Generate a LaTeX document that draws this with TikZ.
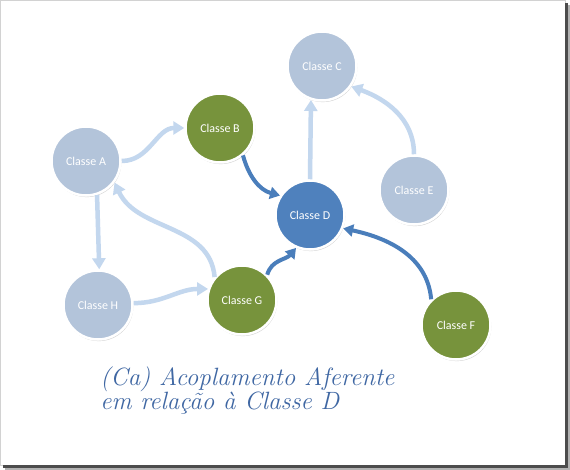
\documentclass[tikz,border=0pt]{standalone}
\usepackage{fontspec}
\newfontfamily\classfont{Carlito}
\usetikzlibrary{arrows.meta,shadows}
\definecolor{classgray}{HTML}{B3C4DA}
\definecolor{classgreen}{HTML}{77933C}
\definecolor{classblue}{HTML}{4F81BD}
\definecolor{arrowlite}{HTML}{C3D7EE}
\definecolor{arrowdark}{HTML}{4A7EBB}
\definecolor{titleblue}{HTML}{3F67A3}

\begin{document}
\begin{tikzpicture}[x=1pt,y=-1pt,line width=.5pt,
  classe/.style={circle,draw=white,line width=2.5pt,minimum size=69pt,inner sep=0pt,text=white,font=\classfont\fontsize{12}{14}\selectfont,drop shadow={shadow xshift=.8pt,shadow yshift=-1.6pt,opacity=.35}},
  cinza/.style={classe,fill=classgray},
  verde/.style={classe,fill=classgreen},
  azul/.style={classe,fill=classblue},
  fraca/.style={draw=arrowlite,line width=4.5pt,-{Triangle[length=11pt,width=13pt]}},
  forte/.style={draw=arrowdark,line width=4pt,-{Triangle[length=10pt,width=12pt]}}]
\path[use as bounding box] (0,0) rectangle (570,470);
\fill[white] (0,0) rectangle (565,465);
\draw[gray!35] (0.5,0.5) rectangle (565,465);
\fill[black!70] (565,3) rectangle (567.5,467.5);
\fill[black!70] (3,465) rectangle (567.5,467.5);
\fill[black!30] (567.5,5) rectangle (570,470);
\fill[black!30] (5,467.5) rectangle (570,470);
\node[cinza] (A) at (86,161) {Classe A};
\node[verde] (B) at (220,128) {Classe B};
\node[cinza] (C) at (322,66) {Classe C};
\node[azul] (D) at (310,215) {Classe D};
\node[cinza] (E) at (414,190) {Classe E};
\node[verde] (F) at (456,325) {Classe F};
\node[verde] (G) at (242,300) {Classe G};
\node[cinza] (H) at (98,305) {Classe H};
\draw[fraca] (A.east) to[out=0,in=180] (B.west);
\draw[fraca] (D.north) -- (C.-108);
\draw[fraca] (E.north) to[out=90,in=-20] (C.-35);
\draw[fraca] (A.-72) -- (H.88);
\draw[fraca] (G.140) to[out=95,in=-65] (A.-37);
\draw[fraca] (H.3) to[out=0,in=180] (G.162);
\draw[forte] (B.-50) to[out=-75,in=165] (D.147);
\draw[forte] (G.45) to[out=75,in=-130] (D.-113);
\draw[forte] (F.134) to[out=95,in=-12] (D.-22);
\node[anchor=north west,inner sep=0pt,align=left,text=titleblue,font=\fontsize{25}{22}\selectfont\itshape] (titulo) at (100,366) {(Ca) Acoplamento Aferente\\em relação à Classe D};
\end{tikzpicture}
\end{document}
